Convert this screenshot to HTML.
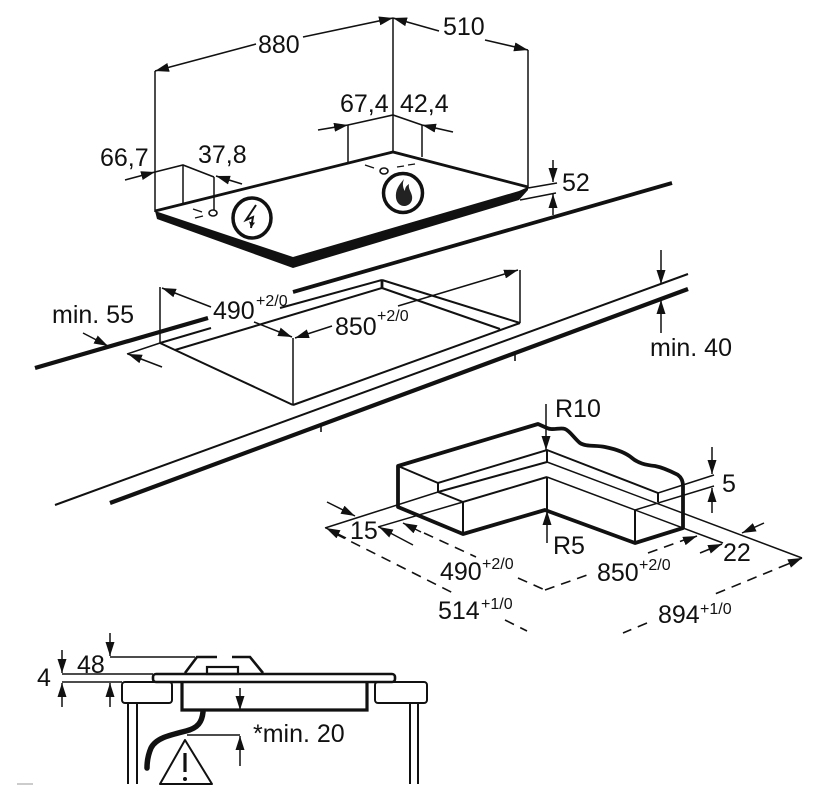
<!DOCTYPE html>
<html><head><meta charset="utf-8">
<style>
html,body{margin:0;padding:0;background:#fff;}
svg{display:block;}
text{font-family:"Liberation Sans",Arial,sans-serif;fill:#111;}
.t{font-size:25px;}
.s{font-size:16px;}
</style></head>
<body>
<svg width="820" height="796" viewBox="0 0 820 796" xmlns="http://www.w3.org/2000/svg">
<defs>
<marker id="ah" viewBox="0 0 14 9" refX="14" refY="4.5" markerWidth="14" markerHeight="9" markerUnits="userSpaceOnUse" orient="auto-start-reverse"><path d="M0,0 L14,4.5 L0,9 z" fill="#111"/></marker>
<marker id="sm" viewBox="0 0 6 6" refX="6" refY="3" markerWidth="6" markerHeight="6" markerUnits="userSpaceOnUse" orient="auto"><path d="M0,0 L6,3 L0,6 z" fill="#111"/></marker>
</defs>
<g stroke="#111" fill="none" stroke-linecap="butt">

<!-- ===== TOP HOB ===== -->
<g stroke-width="1.5">
<line x1="155" y1="71" x2="155" y2="212"/>
<line x1="393" y1="18" x2="393" y2="152"/>
<line x1="528" y1="50" x2="528" y2="188"/>
<line x1="348" y1="125" x2="348" y2="162"/>
<line x1="422" y1="125" x2="422" y2="157"/>
<line x1="183" y1="165" x2="183" y2="203"/>
<line x1="214" y1="177" x2="214" y2="210"/>
</g>
<g stroke-width="1.6">
<line x1="256" y1="44" x2="155" y2="71" marker-end="url(#ah)"/>
<line x1="303" y1="37" x2="393" y2="18" marker-end="url(#ah)"/>
<line x1="439" y1="31" x2="393" y2="18" marker-end="url(#ah)"/>
<line x1="485" y1="40" x2="528" y2="50" marker-end="url(#ah)"/>
<line x1="318" y1="130" x2="348" y2="125" marker-end="url(#ah)"/>
<polyline points="348,125 393,115 422,125"/>
<line x1="453" y1="132" x2="422" y2="125" marker-end="url(#ah)"/>
<line x1="125" y1="180" x2="155" y2="172" marker-end="url(#ah)"/>
<polyline points="155,172 183,165 214,177"/>
<line x1="242" y1="184" x2="216" y2="176" marker-end="url(#ah)"/>
</g>
<polygon points="155,211 293,257 519,191 528,187 528,190 519,200 293,268 157,219" fill="#111" stroke="none"/>
<polyline points="155,211 393,152 528,187" stroke-width="2.8"/>
<ellipse cx="213" cy="213" rx="4" ry="3" stroke-width="1.6"/>
<line x1="193" y1="209" x2="202" y2="212" stroke-width="1.3"/>
<line x1="195" y1="218" x2="203" y2="216" stroke-width="1.3"/>
<ellipse cx="384" cy="171" rx="4" ry="3" stroke-width="1.6"/>
<line x1="365" y1="165" x2="374" y2="168" stroke-width="1.3"/>
<line x1="397" y1="167" x2="404" y2="166" stroke-width="1.3"/>
<line x1="408" y1="165" x2="415" y2="164" stroke-width="1.3"/>
<ellipse cx="252" cy="218" rx="19" ry="20" stroke-width="3.5"/>
<polyline points="256,205 246,220 253,217 251,228" stroke-width="2" marker-end="url(#sm)"/>
<circle cx="403" cy="193" r="19.5" stroke-width="3.5"/>
<path d="M404,179 C399,185 395,190 396,198 C397,204 401,206 404,206 C409,206 413,202 412,196 C411,191 408,189 409,184 C406,186 405,188 405,191 C403,188 402,184 404,179 Z" fill="#222" stroke="none"/>
<g stroke-width="1.5">
<line x1="528" y1="188" x2="557" y2="183"/>
<line x1="520" y1="200" x2="556" y2="193"/>
<line x1="553" y1="160" x2="553" y2="182" marker-end="url(#ah)"/>
<line x1="553" y1="215" x2="553" y2="194" marker-end="url(#ah)"/>
</g>

<!-- ===== WORKTOP ===== -->
<line x1="35" y1="368" x2="208" y2="318" stroke-width="4.2"/>
<line x1="293" y1="292" x2="672" y2="183" stroke-width="3.8"/>
<line x1="55" y1="505" x2="688" y2="274" stroke-width="2"/>
<line x1="110" y1="503" x2="688" y2="289" stroke-width="4.2"/>
<line x1="321" y1="424" x2="321" y2="432" stroke-width="1.6"/>
<line x1="515" y1="353" x2="515" y2="361" stroke-width="1.6"/>
<g stroke-width="2">
<line x1="160" y1="343" x2="211" y2="328"/>
<line x1="280" y1="308" x2="382" y2="280"/>
<line x1="175" y1="350" x2="382" y2="288"/>
<line x1="160" y1="343" x2="293" y2="405"/>
<line x1="293" y1="405" x2="520" y2="323"/>
<line x1="382" y1="280" x2="520" y2="323"/>
<line x1="382" y1="288" x2="500" y2="329"/>
</g>
<line x1="382" y1="280" x2="382" y2="289" stroke-width="2.8"/>
<g stroke-width="1.5">
<line x1="160" y1="287" x2="160" y2="343"/>
<line x1="293" y1="338" x2="293" y2="405"/>
<line x1="520" y1="270" x2="520" y2="323"/>
<line x1="211" y1="307" x2="162" y2="288" marker-end="url(#ah)"/>
<line x1="254" y1="322" x2="292" y2="337" marker-end="url(#ah)"/>
<line x1="332" y1="326" x2="295" y2="338" marker-end="url(#ah)"/>
<line x1="398" y1="306" x2="518" y2="270" marker-end="url(#ah)"/>
<line x1="83" y1="333" x2="108" y2="346" marker-end="url(#ah)"/>
<line x1="162" y1="367" x2="128" y2="354" marker-end="url(#ah)"/>
<line x1="127" y1="354" x2="160" y2="343"/>
<line x1="661" y1="250" x2="661" y2="284" marker-end="url(#ah)"/>
<line x1="661" y1="333" x2="661" y2="300" marker-end="url(#ah)"/>
</g>

<!-- ===== PROFILE DETAIL ===== -->
<path d="M398,466 L538,424 L547,428 C553,431 560,427 565,429 C570,431 574,438 580,443 C586,447 596,445 605,447 C615,449 625,452 632,458 C638,463 645,465 655,466 C665,468 672,472 678,475 C682,478 683,482 683,486 L683,528 L635,543 L545,510 L463,534 L398,507 Z" stroke-width="3.8" stroke-linejoin="round"/>
<g stroke-width="2">
<polyline points="398,466 438,483 547,450 658,493"/>
<line x1="658" y1="493" x2="714" y2="475" stroke-width="1.5"/>
<line x1="438" y1="483" x2="438" y2="492"/>
<line x1="438" y1="492" x2="547" y2="462"/>
<line x1="547" y1="462" x2="802" y2="558" stroke-width="1.5"/>
<line x1="658" y1="493" x2="658" y2="502"/>
<polyline points="438,492 463,502 547,477"/>
<line x1="547" y1="477" x2="723" y2="543" stroke-width="1.5"/>
<line x1="635" y1="510" x2="714" y2="486" stroke-width="1.5"/>
<line x1="463" y1="502" x2="463" y2="534"/>
<line x1="547" y1="450" x2="547" y2="462"/>
<line x1="547" y1="477" x2="547" y2="510"/>
<line x1="635" y1="510" x2="635" y2="543"/>
</g>
<g stroke-width="1.5">
<line x1="325" y1="528" x2="438" y2="492"/>
<line x1="378" y1="527" x2="463" y2="502"/>
<line x1="546" y1="404" x2="546" y2="450" marker-end="url(#ah)"/>
<line x1="547" y1="543" x2="547" y2="511" marker-end="url(#ah)"/>
<line x1="712" y1="447" x2="712" y2="474" marker-end="url(#ah)"/>
<line x1="712" y1="513" x2="712" y2="488" marker-end="url(#ah)"/>
<line x1="327" y1="502" x2="355" y2="516" marker-end="url(#ah)"/>
<line x1="346" y1="538" x2="326" y2="528" marker-end="url(#ah)"/>
<line x1="413" y1="545" x2="379" y2="527" marker-end="url(#ah)"/>
<line x1="421" y1="532" x2="403" y2="523" marker-end="url(#ah)"/>
<line x1="700" y1="553" x2="722" y2="544" marker-end="url(#ah)"/>
<line x1="764" y1="523" x2="742" y2="533" marker-end="url(#ah)"/>
</g>
<g stroke-width="1.6" stroke-dasharray="10 7">
<line x1="336" y1="534" x2="455" y2="594"/>
<line x1="505" y1="620" x2="527" y2="631"/>
<line x1="424" y1="533" x2="476" y2="557"/>
<line x1="518" y1="578" x2="545" y2="590"/>
<line x1="545" y1="590" x2="590" y2="574"/>
<line x1="648" y1="553" x2="684" y2="540"/>
<line x1="788" y1="564" x2="715" y2="594"/>
<line x1="647" y1="623" x2="623" y2="633"/>
</g>
<line x1="684" y1="541" x2="697" y2="536" stroke-width="1.5" marker-end="url(#ah)"/>
<line x1="788" y1="564" x2="802" y2="558" stroke-width="1.5" marker-end="url(#ah)"/>

<!-- ===== SECTION VIEW ===== -->
<g stroke-width="2">
<rect x="122" y="682" width="50" height="21" rx="3"/>
<rect x="375" y="682" width="52" height="21" rx="3"/>
<line x1="128" y1="703" x2="128" y2="784"/>
<line x1="137" y1="703" x2="137" y2="784"/>
<line x1="410" y1="703" x2="410" y2="784"/>
<line x1="418" y1="703" x2="418" y2="784"/>
</g>
<path d="M182,682 V710 H367 V682" stroke-width="3.2" fill="#fff"/>
<rect x="153" y="674" width="242" height="8" rx="3" stroke-width="2.6" fill="#fff"/>
<polyline points="185,673 197,657 217,657" stroke-width="2.6"/>
<polyline points="232,657 250,657 263,673" stroke-width="2.6"/>
<rect x="207" y="667" width="31" height="7" stroke-width="2.2"/>
<path d="M203,712 C202,722 198,728 186,731 C170,735 156,738 151,748 C148,755 147,762 147,768" stroke-width="5.5" stroke-linecap="round"/>
<polygon points="185,740 160,784 212,784" stroke-width="2" stroke-linejoin="round"/>
<line x1="185" y1="753" x2="185" y2="772" stroke-width="3.2"/>
<circle cx="185" cy="779" r="2" fill="#111" stroke="none"/>
<g stroke-width="1.5">
<line x1="240" y1="688" x2="240" y2="710" marker-end="url(#ah)"/>
<line x1="240" y1="766" x2="240" y2="736" marker-end="url(#ah)"/>
<line x1="187" y1="735" x2="240" y2="735"/>
<line x1="110" y1="633" x2="110" y2="656" marker-end="url(#ah)"/>
<line x1="110" y1="657" x2="195" y2="657"/>
<line x1="110" y1="707" x2="110" y2="683" marker-end="url(#ah)"/>
<line x1="62" y1="682" x2="122" y2="682"/>
<line x1="62" y1="674" x2="153" y2="674"/>
<line x1="62" y1="650" x2="62" y2="673" marker-end="url(#ah)"/>
<line x1="62" y1="707" x2="62" y2="683" marker-end="url(#ah)"/>
</g>
<line x1="17" y1="784" x2="33" y2="784" stroke="#999" stroke-width="1"/>
</g>

<!-- ===== TEXT ===== -->
<text x="258" y="53" class="t">880</text>
<text x="443" y="35" class="t">510</text>
<text x="340" y="112" class="t">67,4</text>
<text x="400" y="112" class="t">42,4</text>
<text x="100" y="166" class="t">66,7</text>
<text x="198" y="163" class="t">37,8</text>
<text x="562" y="191" class="t">52</text>
<text x="52" y="323" class="t">min. 55</text>
<text x="213" y="319" class="t">490</text>
<text x="256" y="306" class="s">+2/0</text>
<text x="335" y="335" class="t">850</text>
<text x="377" y="321" class="s">+2/0</text>
<text x="650" y="356" class="t">min. 40</text>
<text x="555" y="417" class="t">R10</text>
<text x="722" y="492" class="t">5</text>
<text x="553" y="554" class="t">R5</text>
<text x="350" y="539" class="t">15</text>
<text x="723" y="561" class="t">22</text>
<text x="440" y="580" class="t">490</text>
<text x="482" y="569" class="s">+2/0</text>
<text x="597" y="581" class="t">850</text>
<text x="639" y="570" class="s">+2/0</text>
<text x="438" y="619" class="t">514</text>
<text x="481" y="609" class="s">+1/0</text>
<text x="658" y="623" class="t">894</text>
<text x="700" y="614" class="s">+1/0</text>
<text x="77" y="673" class="t">48</text>
<text x="37" y="686" class="t">4</text>
<text x="253" y="742" class="t">*min. 20</text>
</svg>
</body></html>
